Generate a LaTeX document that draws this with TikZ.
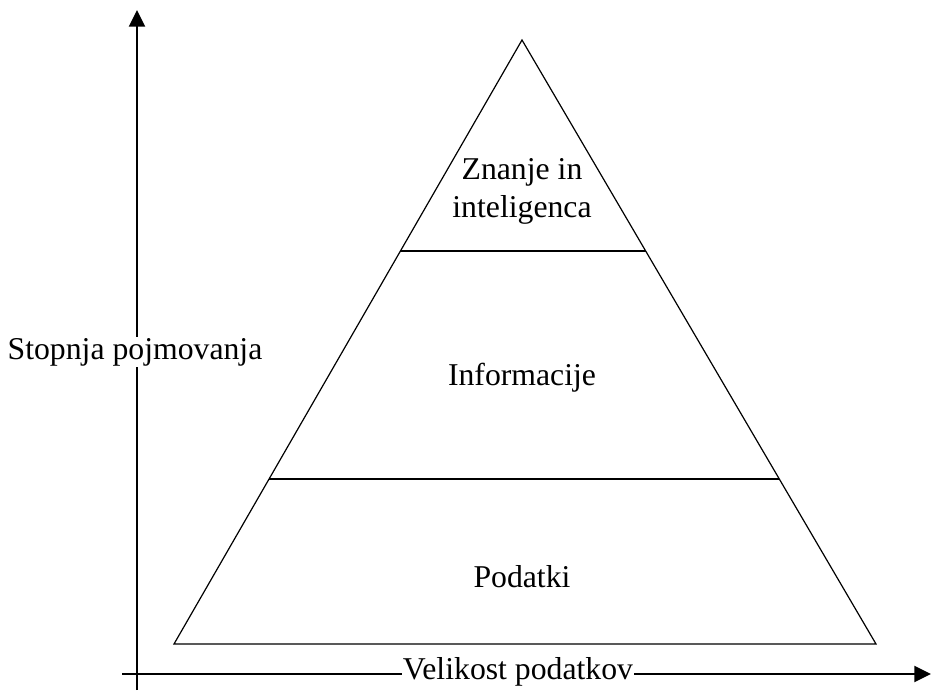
\documentclass[tikz,border=0pt]{standalone}
\usepackage{fontspec}
\setmainfont{Liberation Serif}
\usetikzlibrary{positioning,arrows.meta,calc}

\begin{document}
\begin{tikzpicture}[
        x=0.75pt, y=-0.75pt,
        >={Triangle[length=12.5pt,width=12pt]},
        axis/.style={->,line width=1.5pt},
        edge/.style={line width=0.9pt},
        label/.style={
            align=center,
            font=\fontsize{23.8}{28.5}\selectfont,
            inner sep=1pt
        }
    ]
    \useasboundingbox (0,0) rectangle (931,691);

    % axes
    \coordinate (yfoot) at (137,690);
    \coordinate (ytip) at (137,10);
    \coordinate (xfoot) at (122,674);
    \coordinate (xtip) at (931,674);
    \draw[axis] (yfoot) -- (ytip);
    \draw[axis] (xfoot) -- (xtip);

    % pyramid
    \coordinate (apex) at (522,40);
    \coordinate (baseleft) at (174,644);
    \coordinate (baseright) at (876,644);
    \draw[edge] (apex) -- (baseleft) -- (baseright) -- cycle;
    \coordinate (upleft) at ($(apex)!0.3493!(baseleft)$);
    \coordinate (upright) at ($(apex)!0.3493!(baseright)$);
    \coordinate (lowleft) at ($(apex)!0.7268!(baseleft)$);
    \coordinate (lowright) at ($(apex)!0.7268!(baseright)$);
    \draw[edge] (upleft) -- (upright);
    \draw[edge] (lowleft) -- (lowright);

    \node[label] (knowledge) at (522,191) {Znanje in\\inteligenca};
    \node[label] (information) at (522,378) {Informacije};
    \node[label] (data) at (522,577) {Podatki};

    \node[label, fill=white] (yaxis) at (135,352) {Stopnja pojmovanja};
    \node[label, fill=white, inner xsep=0.5pt] (xaxis) at (518,672) {Velikost podatkov};

    \end{tikzpicture}
\end{document}
